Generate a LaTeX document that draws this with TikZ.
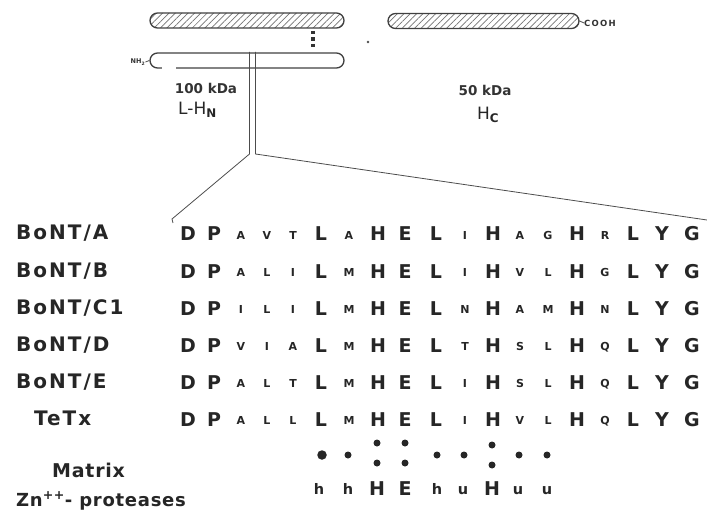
\documentclass[tikz,border=0pt]{standalone}
\usepackage{fontspec}
\setmainfont{DejaVu Sans}
\newfontfamily\spfont[LetterSpace=10]{DejaVu Sans}
\newfontfamily\tspfont[LetterSpace=4]{DejaVu Sans}
\newfontfamily\cofont[LetterSpace=15]{DejaVu Sans}
\usetikzlibrary{patterns.meta,shapes.misc}
\tikzset{
  barbox/.style={rounded rectangle, draw=black!75, line width=1.3pt, minimum height=15pt, inner sep=0pt},
  hatched/.style={barbox, pattern={Lines[angle=45,distance=4.5pt,line width=0.7pt]}, pattern color=black!55},
  bigl/.style={font=\bfseries\fontsize{19}{19}\selectfont, inner sep=0pt, anchor=base, text=black!85},
  smalll/.style={font=\bfseries\fontsize{11}{11}\selectfont, inner sep=0pt, anchor=base, text=black!85},
  midl/.style={font=\bfseries\fontsize{14.5}{14.5}\selectfont, inner sep=0pt, anchor=base, text=black!85},
  lab/.style={font=\spfont\bfseries\fontsize{20}{20}\selectfont, inner sep=0pt, anchor=base west, text=black!85},
  tlab/.style={font=\tspfont\bfseries\fontsize{19}{19}\selectfont, inner sep=0pt, anchor=base west, text=black!85},
  dotn/.style={circle, fill=black!85, inner sep=0pt, minimum size=7pt},
  thinline/.style={draw=black!70, line width=0.8pt},
  toplab/.style={font=\bfseries\fontsize{13.5}{13.5}\selectfont, inner sep=0pt, text=black!80},
  namel/.style={font=\fontsize{17}{17}\selectfont, inner sep=0pt, anchor=base west, text=black!85}
}
\begin{document}
\begin{tikzpicture}[x=1pt,y=-1pt]
\useasboundingbox (0,0) rectangle (707,513);
% top domain structure
\node[hatched, minimum width=194pt] (bar1) at (247,20.5) {};
\node[hatched, minimum width=191pt] (bar2) at (483.5,21) {};
\node[barbox, minimum width=194pt] (bar3) at (247,60.5) {};
\fill[white] (162,66) rectangle (176,71);
\node[font=\bfseries\fontsize{6.5}{6.5}\selectfont, inner sep=0pt, text=black!80] (nh) at (138,62) {NH\textsubscript{2}};
\draw[thinline] (nh.east) -- (bar3.west);
\node[font=\cofont\bfseries\fontsize{8.5}{8.5}\selectfont, inner sep=0pt, anchor=west, text=black!80] (cooh) at (584,23) {COOH};
\draw[thinline] (bar2.east) -- (cooh.west);
\coordinate (ss1) at (313,31);
\coordinate (ss2) at (313,48);
\draw[black!80, line width=3.6pt, dash pattern=on 3.4pt off 3pt] (ss1) -- (ss2);
\fill[black!70] (368,42) circle (1.4pt);
% zoom lines
\coordinate (v1t) at (249.5,52);
\coordinate (v1b) at (249.5,154);
\coordinate (v2t) at (255.5,52);
\coordinate (v2b) at (255.5,154);
\coordinate (lend) at (172,219);
\coordinate (lhook) at (173,223);
\coordinate (rend) at (707,220);
\draw[thinline] (v1t) -- (v1b) -- (lend) -- (lhook);
\draw[thinline] (v2t) -- (v2b) -- (rend);
% top labels
\node[toplab] (kda1) at (206,88) {100 kDa};
\node[toplab] (kda2) at (485,90) {50 kDa};
\node[namel] (lhn) at (178,115) {L-H\textsubscript{\bfseries N}};
\node[namel] (hc) at (477,120) {H\textsubscript{\bfseries C}};
% row labels
\node[lab] (la) at (16,240) {BoNT/A};
\node[lab] (lb) at (16,277) {BoNT/B};
\node[lab] (lc) at (16,314) {BoNT/C1};
\node[lab] (ld) at (16,351) {BoNT/D};
\node[lab] (le) at (16,388) {BoNT/E};
\node[lab] (lt) at (34,425) {TeTx};
\node[tlab] (lm) at (52,477) {Matrix};
\node[tlab, font=\tspfont\bfseries\fontsize{18}{18}\selectfont] (lz) at (16,506) {Zn\textsuperscript{++}- proteases};
% sequences
\foreach \row [count=\r] in {
  {D,P,A,V,T,L,A,H,E,L,I,H,A,G,H,R,L,Y,G},
  {D,P,A,L,I,L,M,H,E,L,I,H,V,L,H,G,L,Y,G},
  {D,P,I,L,I,L,M,H,E,L,N,H,A,M,H,N,L,Y,G},
  {D,P,V,I,A,L,M,H,E,L,T,H,S,L,H,Q,L,Y,G},
  {D,P,A,L,T,L,M,H,E,L,I,H,S,L,H,Q,L,Y,G},
  {D,P,A,L,L,L,M,H,E,L,I,H,V,L,H,Q,L,Y,G}} {
  \pgfmathsetmacro\yy{{241,278,315,352,389,426}[\r-1]}
  \foreach \ch [count=\i] in \row {
    \pgfmathsetmacro\xx{{188,214,241,267,293,321,349,378,405,436,465,493,520,548,577,605,633,662,692}[\i-1]}
    \pgfmathtruncatemacro\sz{{1,1,0,0,0,1,0,1,1,1,0,1,0,0,1,0,1,1,1}[\i-1]}
    \ifnum\sz=1
      \node[bigl] (s\r-\i) at (\xx,\yy) {\ch};
    \else
      \node[smalll] (s\r-\i) at (\xx,\yy-1.5) {\ch};
    \fi
  }
}
% conservation dots
\node[dotn, minimum size=9.5pt] (d6) at (322,455) {};
\node[dotn] (d7) at (348,455) {};
\node[dotn] (d8a) at (377,443) {};
\node[dotn] (d8b) at (377,463) {};
\node[dotn] (d9a) at (405,443) {};
\node[dotn] (d9b) at (405,463) {};
\node[dotn] (d10) at (437,455) {};
\node[dotn] (d11) at (464,455) {};
\node[dotn] (d12a) at (492,445) {};
\node[dotn] (d12b) at (492,465) {};
\node[dotn] (d13) at (519,455) {};
\node[dotn] (d14) at (547,455) {};
% consensus
\node[midl] (c6) at (319,494) {h};
\node[midl] (c7) at (348,494) {h};
\node[bigl] (c8) at (377,495) {H};
\node[bigl] (c9) at (405,495) {E};
\node[midl] (c10) at (437,494) {h};
\node[midl] (c11) at (463,494) {u};
\node[bigl] (c12) at (492,495) {H};
\node[midl] (c13) at (518,494) {u};
\node[midl] (c14) at (547,494) {u};
\end{tikzpicture}
\end{document}
